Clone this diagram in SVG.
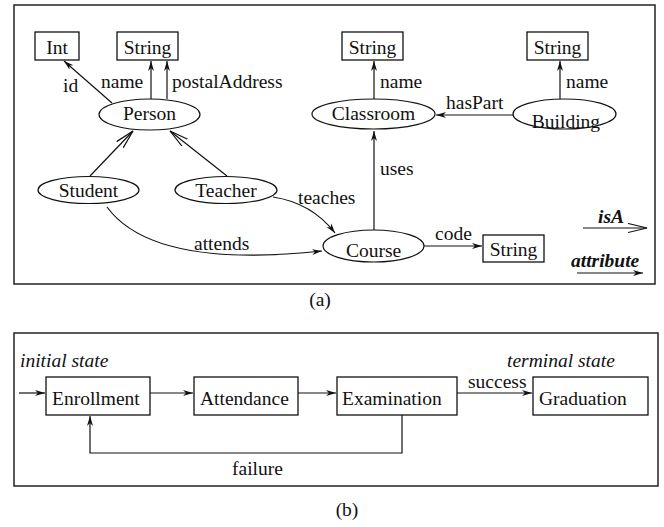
<svg xmlns="http://www.w3.org/2000/svg" width="664" height="527" viewBox="0 0 664 527">
<style>
text{font-family:"Liberation Serif","Times New Roman",serif;font-size:19.5px;fill:#111}
.it{font-style:italic}
.bi{font-style:italic;font-weight:bold}
.box{fill:#fff;stroke:#111;stroke-width:1.3}
.el{fill:#fff;stroke:#111;stroke-width:1.2}
.frame{fill:#fff;stroke:#222;stroke-width:1.5}
.c{fill:none;stroke:#111;stroke-width:1.2}
.att{marker-end:url(#att)}
.isa{marker-end:url(#isa)}
</style>
<defs>
<marker id="att" markerUnits="userSpaceOnUse" markerWidth="12" markerHeight="8" refX="10" refY="3.5" orient="auto">
<path d="M0,0.5 L10,3.5 L0,6.5 L3,3.5 z" fill="#111"/>
</marker>
<marker id="isa" markerUnits="userSpaceOnUse" markerWidth="22" markerHeight="12" refX="19" refY="5" orient="auto">
<path d="M0,0.5 L19,5 L0,9.5" fill="none" stroke="#111" stroke-width="1.2"/>
</marker>
</defs>
<rect class="frame" x="14" y="5" width="641" height="279"/>
<rect class="frame" x="14" y="333" width="644" height="153"/>
<g id="connectors">
<line class="c att" x1="112" y1="103" x2="64" y2="61"/>
<line class="c att" x1="151" y1="99" x2="151" y2="61"/>
<line class="c att" x1="167" y1="99" x2="167" y2="61"/>
<line class="c att" x1="374" y1="99" x2="374" y2="61"/>
<line class="c att" x1="560" y1="99" x2="560" y2="61"/>
<line class="c att" x1="513" y1="115" x2="436" y2="115"/>
<line class="c isa" x1="90" y1="176" x2="133" y2="131"/>
<line class="c isa" x1="227" y1="176" x2="170" y2="131"/>
<line class="c att" x1="374" y1="230" x2="374" y2="131"/>
<line class="c att" x1="424" y1="246" x2="482" y2="246"/>
<path class="c att" d="M273,197 Q312,203 335,233"/>
<path class="c att" d="M107,207 C140,252 220,262 322,251"/>
<line class="c isa" x1="583" y1="228" x2="647" y2="228"/>
<line class="c att" x1="577" y1="273" x2="643" y2="273"/>
<line class="c att" x1="19" y1="393" x2="45" y2="393"/>
<line class="c att" x1="150" y1="393" x2="193" y2="393"/>
<line class="c att" x1="298" y1="393" x2="336" y2="393"/>
<line class="c att" x1="457" y1="393" x2="532" y2="393"/>
<polyline class="c att" points="402,415 402,453 90,453 90,416"/>
</g>
<g id="labels">
<text x="63" y="92">id</text>
<text x="101" y="88">name</text>
<text x="172" y="88">postalAddress</text>
<text x="380" y="88">name</text>
<text x="566" y="88">name</text>
<text x="446" y="109">hasPart</text>
<text x="380" y="175">uses</text>
<text x="298" y="204">teaches</text>
<text x="194" y="250">attends</text>
<text x="435" y="240">code</text>
<text class="bi" x="598" y="223">isA</text>
<text class="bi" x="571" y="267">attribute</text>
<text x="320" y="306" text-anchor="middle">(a)</text>
<text class="it" x="20" y="367">initial state</text>
<text class="it" x="507" y="367">terminal state</text>
<text x="468" y="388">success</text>
<text x="232" y="475">failure</text>
<text x="347" y="516" text-anchor="middle">(b)</text>
</g>
<g id="int"><rect class="box" x="35" y="32" width="44" height="28"/><text x="57" y="54" text-anchor="middle">Int</text></g>
<g id="string1"><rect class="box" x="117" y="32" width="61" height="28"/><text x="147.5" y="54" text-anchor="middle">String</text></g>
<g id="string2"><rect class="box" x="342" y="32" width="61" height="28"/><text x="372.5" y="54" text-anchor="middle">String</text></g>
<g id="string3"><rect class="box" x="527" y="32" width="61" height="28"/><text x="557.5" y="54" text-anchor="middle">String</text></g>
<g id="string4"><rect class="box" x="483" y="235" width="61" height="27"/><text x="513.5" y="256" text-anchor="middle">String</text></g>
<g id="person"><ellipse class="el" cx="149.5" cy="114.5" rx="50.5" ry="15.5"/><text x="149.5" y="120" text-anchor="middle">Person</text></g>
<g id="classroom"><ellipse class="el" cx="373.5" cy="114" rx="61.5" ry="15"/><text x="373.5" y="120" text-anchor="middle">Classroom</text></g>
<g id="building"><ellipse class="el" cx="564.5" cy="114" rx="51.5" ry="15"/><text x="566" y="128" text-anchor="middle">Building</text></g>
<g id="student"><ellipse class="el" cx="88.5" cy="190" rx="50.5" ry="13.5"/><text x="88.5" y="197" text-anchor="middle">Student</text></g>
<g id="teacher"><ellipse class="el" cx="226" cy="190" rx="51" ry="13.5"/><text x="226" y="197" text-anchor="middle">Teacher</text></g>
<g id="course"><ellipse class="el" cx="373.5" cy="246" rx="50.5" ry="16"/><text x="373.5" y="257" text-anchor="middle">Course</text></g>
<g id="enrollment"><rect class="box" x="46" y="377" width="104" height="38"/><text x="52" y="405">Enrollment</text></g>
<g id="attendance"><rect class="box" x="194" y="377" width="104" height="38"/><text x="200" y="405">Attendance</text></g>
<g id="examination"><rect class="box" x="337" y="377" width="120" height="38"/><text x="342" y="405">Examination</text></g>
<g id="graduation"><rect class="box" x="533" y="377" width="115" height="38"/><text x="539" y="405">Graduation</text></g>
</svg>
